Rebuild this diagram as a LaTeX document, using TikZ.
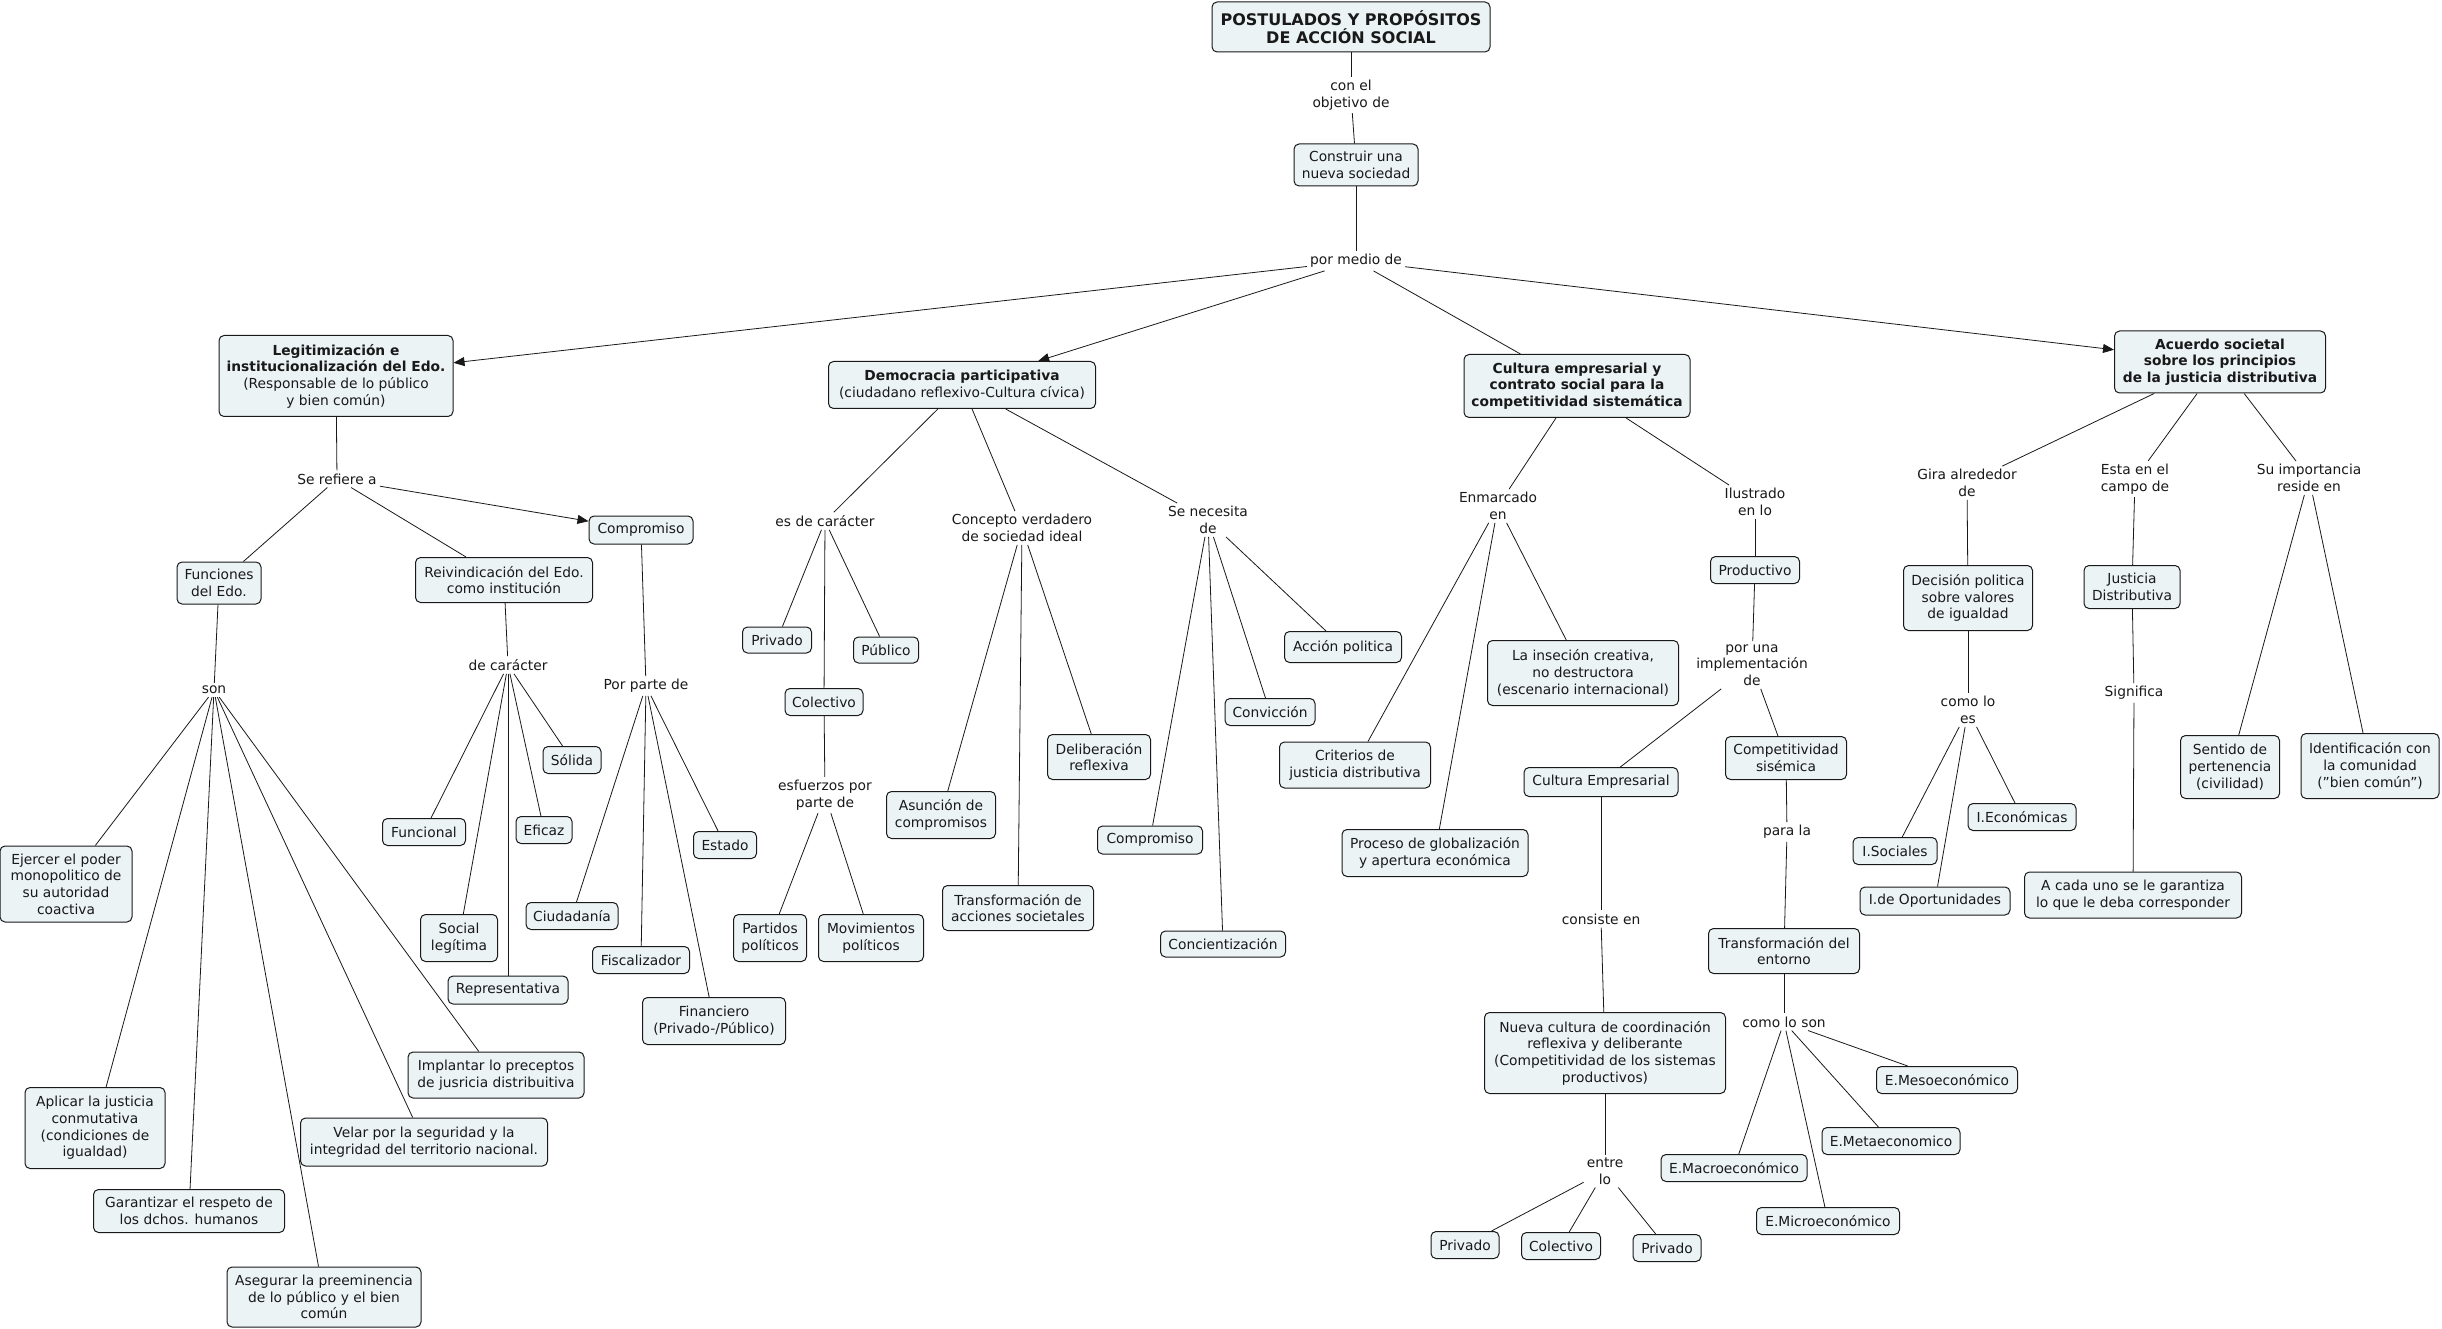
\documentclass[tikz,border=0pt]{standalone}
\usepackage{fontspec}
\setmainfont{DejaVu Sans}
\usetikzlibrary{arrows.meta}
\definecolor{boxfill}{RGB}{235,243,245}
\definecolor{ink}{RGB}{25,25,25}
\tikzset{
  box/.style={draw=ink, fill=boxfill, rounded corners=5pt, line width=1pt, align=center,
    inner sep=2pt, text=ink, font=\fontsize{13.8}{16.7}\selectfont},
  bbox/.style={box, font=\fontsize{13.8}{16.7}\selectfont\bfseries},
  titlebox/.style={box, font=\fontsize{16}{18.3}\selectfont\bfseries},
  lbl/.style={align=center, inner sep=3pt, text=ink, font=\fontsize{13.8}{16.7}\selectfont},
  conn/.style={draw=ink, line width=0.8pt},
  arr/.style={conn, -{Triangle[length=11pt,width=9pt]}},
}
\newcommand{\bx}[5]{\node[box, minimum width=#3, minimum height=#4] (#1) at (#2) {#5};}
\begin{document}
\begin{tikzpicture}[x=1pt,y=-1pt]
\useasboundingbox (0,0) rectangle (2442,1329);
\fill[white] (0,0) rectangle (2442,1329);

% ---------- top ----------
\node[titlebox, minimum width=278, minimum height=50] (title) at (1351,27) {POSTULADOS Y PROPÓSITOS\\DE ACCIÓN SOCIAL};
\node[lbl] (conobj) at (1351,95) {con el\\objetivo de};
\bx{construir}{1356,165}{124}{42}{Construir una\\nueva sociedad}
\node[lbl] (pormedio) at (1356,261) {por medio de};

\node[box, minimum width=234, minimum height=81] (legit) at (336,376) {\textbf{Legitimización e}\\\textbf{institucionalización del Edo.}\\(Responsable de lo público\\y bien común)};
\node[box, minimum width=267, minimum height=47] (democ) at (962,385) {\textbf{Democracia participativa}\\(ciudadano reflexivo-Cultura cívica)};
\node[bbox, minimum width=226, minimum height=63] (cultura) at (1577,386) {Cultura empresarial y\\contrato social para la\\competitividad sistemática};
\node[bbox, minimum width=211, minimum height=62] (acuerdo) at (2220,362) {Acuerdo societal\\sobre los principios\\de la justicia distributiva};

% ---------- Legitimizacion ----------
\node[lbl] (serefiere) at (337,479) {Se refiere a};
\bx{funciones}{219,583}{84}{42}{Funciones\\del Edo.}
\bx{reivind}{504,580}{177}{45}{Reivindicación del Edo.\\como institución}
\bx{compL}{641,530}{104}{28}{Compromiso}
\node[lbl] (son) at (214,690) {son};
\node[lbl] (decar) at (508,665) {de carácter};
\node[lbl] (porparte) at (646,686) {Por parte de};
\bx{solida}{572,760}{58}{27}{Sólida}
\bx{funcional}{424,832}{83}{27}{Funcional}
\bx{eficaz}{544,830}{56}{27}{Eficaz}
\bx{social}{459,938}{77}{47}{Social\\legítima}
\bx{repres}{508,990}{120}{28}{Representativa}
\bx{ciudad}{572,916}{92}{27}{Ciudadanía}
\bx{fiscal}{641,960}{97}{27}{Fiscalizador}
\bx{financ}{714,1021}{143}{47}{Financiero\\(Privado-/Público)}
\bx{estado}{725,845}{63}{27}{Estado}
\bx{ejercer}{66,884}{132}{76}{Ejercer el poder\\monopolitico de\\su autoridad\\coactiva}
\bx{aplicar}{95,1128}{140}{81}{Aplicar la justicia\\conmutativa\\(condiciones de\\igualdad)}
\bx{garant}{189,1211}{191}{43}{Garantizar el respeto de\\los dchos. humanos}
\bx{asegur}{324,1297}{194}{60}{Asegurar la preeminencia\\de lo público y el bien\\común}
\bx{velar}{424,1142}{247}{48}{Velar por la seguridad y la\\integridad del territorio nacional.}
\bx{implant}{496,1075}{176}{46}{Implantar lo preceptos\\de jusricia distribuitiva}

% ---------- Democracia ----------
\node[lbl] (esdecar) at (825,521) {es de carácter};
\bx{privD}{777,640}{69}{26}{Privado}
\bx{publD}{886,650}{65}{26}{Público}
\bx{colD}{824,702}{78}{27}{Colectivo}
\node[lbl] (esfuerzos) at (825,795) {esfuerzos por\\parte de};
\bx{partidos}{770,938}{73}{47}{Partidos\\políticos}
\bx{movim}{871,938}{105}{47}{Movimientos\\políticos}
\node[lbl] (concepto) at (1022,528) {Concepto verdadero\\de sociedad ideal};
\bx{asuncion}{941,815}{109}{47}{Asunción de\\compromisos}
\bx{transacc}{1018,908}{151}{45}{Transformación de\\acciones societales}
\bx{delib}{1099,757}{103}{45}{Deliberación\\reflexiva}
\node[lbl] (senec) at (1208,520) {Se necesita\\de};
\bx{compR}{1150,840}{105}{28}{Compromiso}
\bx{concient}{1223,944}{125}{26}{Concientización}
\bx{convic}{1270,712}{90}{27}{Convicción}
\bx{accion}{1343,647}{117}{31}{Acción politica}

% ---------- Cultura empresarial ----------
\node[lbl] (enmarc) at (1498,506) {Enmarcado\\en};
\bx{criter}{1355,765}{151}{46}{Criterios de\\justicia distributiva}
\bx{proceso}{1435,853}{186}{47}{Proceso de globalización\\y apertura económica}
\bx{insec}{1583,673}{191}{65}{La inseción creativa,\\no destructora\\(escenario internacional)}
\node[lbl] (ilustr) at (1755,502) {Ilustrado\\en lo};
\bx{product}{1755,570}{89}{27}{Productivo}
\node[lbl] (porimpl) at (1752,665) {por una\\implementación\\de};
\bx{cultemp}{1601,782}{154}{29}{Cultura Empresarial}
\bx{compet}{1786,758}{121}{43}{Competitividad\\sisémica}
\node[lbl] (consiste) at (1601,919) {consiste en};
\bx{nueva}{1605,1053}{241}{81}{Nueva cultura de coordinación\\reflexiva y deliberante\\(Competitividad de los sistemas\\productivos)}
\node[lbl] (entre) at (1605,1171) {entre\\lo};
\bx{priv1}{1465,1245}{68}{27}{Privado}
\bx{col2}{1561,1246}{79}{27}{Colectivo}
\bx{priv2}{1667,1248}{68}{27}{Privado}
\node[lbl] (parala) at (1787,832) {para la};
\bx{transent}{1784,951}{151}{45}{Transformación del\\entorno}
\node[lbl] (comoson) at (1784,1022) {como lo son};
\bx{macro}{1734,1168}{146}{27}{E.Macroeconómico}
\bx{micro}{1828,1221}{143}{27}{E.Microeconómico}
\bx{meta}{1891,1141}{138}{27}{E.Metaeconomico}
\bx{meso}{1947,1080}{141}{27}{E.Mesoeconómico}

% ---------- Acuerdo societal ----------
\node[lbl] (gira) at (1967,483) {Gira alrededor\\de};
\bx{decision}{1968,598}{129}{65}{Decisión politica\\sobre valores\\de igualdad}
\node[lbl] (comoes) at (1968,710) {como lo\\es};
\bx{sociales}{1895,851}{84}{27}{I.Sociales}
\bx{oport}{1935,901}{150}{28}{I.de Oportunidades}
\bx{econ}{2022,817}{108}{27}{I.Económicas}
\node[lbl] (estaen) at (2135,479) {Esta en el\\campo de};
\bx{justicia}{2132,587}{96}{43}{Justicia\\Distributiva}
\node[lbl] (signif) at (2134,693) {Significa};
\bx{acada}{2133,895}{217}{46}{A cada uno se le garantiza\\lo que le deba corresponder}
\node[lbl] (suimp) at (2309,478) {Su importancia\\reside en};
\bx{sentido}{2230,767}{99}{63}{Sentido de\\pertenencia\\(civilidad)}
\bx{identif}{2370,766}{138}{65}{Identificación con\\la comunidad\\("bien común")}

% ---------- connectors ----------
\draw[conn] (title) -- (conobj);
\draw[conn] (conobj) -- (construir);
\draw[conn] (construir) -- (pormedio);
\draw[arr] (pormedio) -- (legit);
\draw[arr] (pormedio) -- (democ);
\draw[conn] (pormedio) -- (cultura);
\draw[arr] (pormedio) -- (acuerdo);

\draw[conn] (legit) -- (serefiere);
\draw[conn] (serefiere) -- (funciones);
\draw[conn] (serefiere) -- (reivind);
\draw[arr] (serefiere) -- (compL);
\draw[conn] (funciones) -- (son);
\foreach \t in {ejercer,aplicar,garant,asegur,velar,implant} \draw[conn] (son) -- (\t);
\draw[conn] (reivind) -- (decar);
\foreach \t in {funcional,social,repres,eficaz,solida} \draw[conn] (decar) -- (\t);
\draw[conn] (compL) -- (porparte);
\foreach \t in {ciudad,fiscal,financ,estado} \draw[conn] (porparte) -- (\t);

\draw[conn] (democ) -- (esdecar);
\foreach \t in {privD,colD,publD} \draw[conn] (esdecar) -- (\t);
\draw[conn] (colD) -- (esfuerzos);
\foreach \t in {partidos,movim} \draw[conn] (esfuerzos) -- (\t);
\draw[conn] (democ) -- (concepto);
\foreach \t in {asuncion,transacc,delib} \draw[conn] (concepto) -- (\t);
\draw[conn] (democ) -- (senec);
\foreach \t in {compR,concient,convic,accion} \draw[conn] (senec) -- (\t);

\draw[conn] (cultura) -- (enmarc);
\foreach \t in {criter,proceso,insec} \draw[conn] (enmarc) -- (\t);
\draw[conn] (cultura) -- (ilustr);
\draw[conn] (ilustr) -- (product);
\draw[conn] (product) -- (porimpl);
\draw[conn] (porimpl) -- (cultemp);
\draw[conn] (porimpl) -- (compet);
\draw[conn] (cultemp) -- (consiste);
\draw[conn] (consiste) -- (nueva);
\draw[conn] (nueva) -- (entre);
\foreach \t in {priv1,col2,priv2} \draw[conn] (entre) -- (\t);
\draw[conn] (compet) -- (parala);
\draw[conn] (parala) -- (transent);
\draw[conn] (transent) -- (comoson);
\foreach \t in {macro,micro,meta,meso} \draw[conn] (comoson) -- (\t);

\draw[conn] (acuerdo) -- (gira);
\draw[conn] (gira) -- (decision);
\draw[conn] (decision) -- (comoes);
\foreach \t in {sociales,oport,econ} \draw[conn] (comoes) -- (\t);
\draw[conn] (acuerdo) -- (estaen);
\draw[conn] (estaen) -- (justicia);
\draw[conn] (justicia) -- (signif);
\draw[conn] (signif) -- (acada);
\draw[conn] (acuerdo) -- (suimp);
\foreach \t in {sentido,identif} \draw[conn] (suimp) -- (\t);
\end{tikzpicture}
\end{document}
